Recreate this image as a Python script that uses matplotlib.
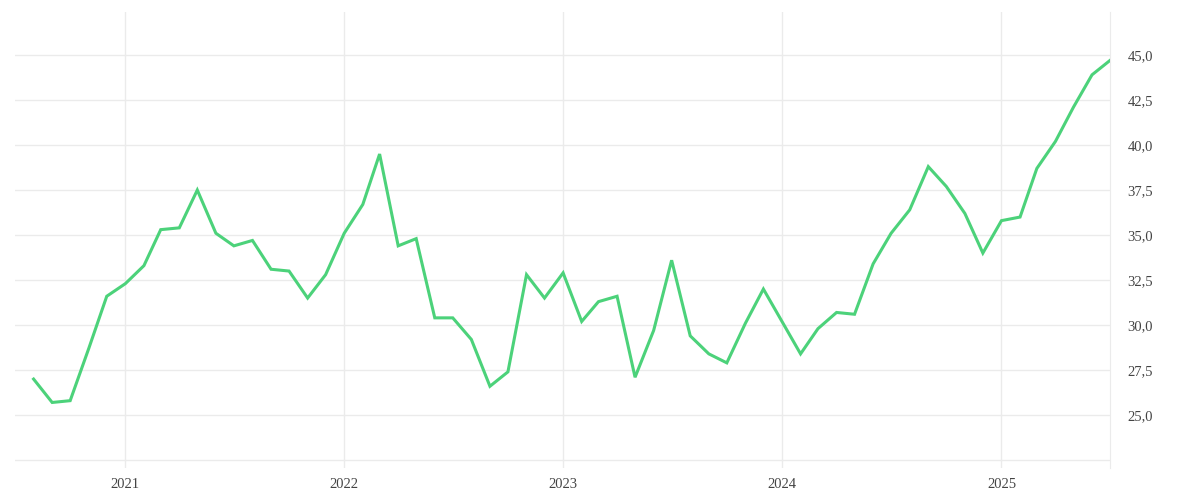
import pandas as pd
import matplotlib.pyplot as plt
import matplotlib.dates as mdates
from matplotlib.ticker import FuncFormatter

# monthly values, Aug 2020 .. Jul 2025
months = pd.date_range("2020-08-01", "2025-07-01", freq="MS")
values = [
    27.0, 25.7, 25.8, 28.7, 31.6,                                        # 2020
    32.3, 33.3, 35.3, 35.4, 37.5, 35.1, 34.4, 34.7, 33.1, 33.0, 31.5, 32.8,  # 2021
    35.1, 36.7, 39.5, 34.4, 34.8, 30.4, 30.4, 29.2, 26.6, 27.4, 32.8, 31.5,  # 2022
    32.9, 30.2, 31.3, 31.6, 27.1, 29.7, 33.6, 29.4, 28.4, 27.9, 30.1, 32.0,  # 2023
    30.2, 28.4, 29.8, 30.7, 30.6, 33.4, 35.1, 36.4, 38.8, 37.7, 36.2, 34.0,  # 2024
    35.8, 36.0, 38.7, 40.2, 42.1, 43.9, 44.7,                            # 2025
]
y_ticks = [22.5, 25.0, 27.5, 30.0, 32.5, 35.0, 37.5, 40.0, 42.5, 45.0]
year_ticks = ["2021", "2022", "2023", "2024", "2025"]

GREEN = "#4cd27a"
GRID = "#ebebeb"
TXT = "#444444"

fig = plt.figure(figsize=(12, 5), dpi=100)
ax = fig.add_axes([0.0125, 0.064, 0.9125, 0.912])

ax.plot(months, values, color=GREEN, lw=2.2, solid_joinstyle="miter", zorder=3)

ax.set_xlim(pd.Timestamp("2020-07-01"), pd.Timestamp("2025-07-01"))
ax.set_ylim(22.06, 47.39)

ax.set_xticks([pd.Timestamp(f"{y}-01-01") for y in year_ticks])
ax.xaxis.set_major_formatter(mdates.DateFormatter("%Y"))
ax.set_yticks(y_ticks)
ax.yaxis.set_major_formatter(
    FuncFormatter(lambda v, p: "" if v < 24 else f"{v:.1f}".replace(".", ",")))
ax.yaxis.tick_right()

ax.grid(True, color=GRID, lw=1)
ax.set_axisbelow(True)
for s in ["left", "top", "bottom"]:
    ax.spines[s].set_visible(False)
ax.spines["right"].set_color(GRID)

ax.tick_params(axis="both", length=0, labelcolor=TXT, labelsize=10.5)
ax.tick_params(axis="x", pad=7.5)
ax.tick_params(axis="y", pad=12.5)
for lab in ax.get_xticklabels() + ax.get_yticklabels():
    lab.set_family(["Liberation Serif", "DejaVu Serif"])

fig.savefig("out.png", dpi=100, facecolor="white")
